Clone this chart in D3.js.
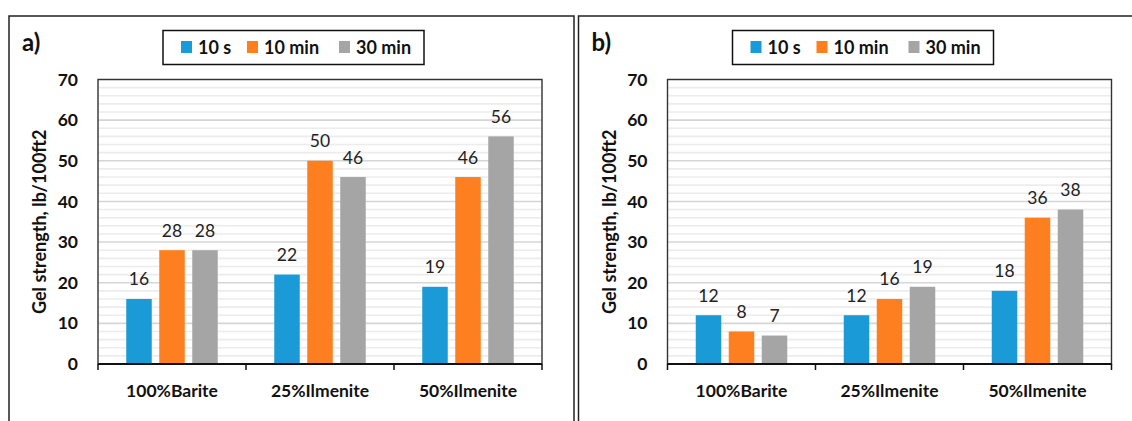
<!DOCTYPE html>
<html>
<head>
<meta charset="utf-8">
<script src="https://cdn.jsdelivr.net/npm/d3@7"></script>
<style>
  html, body { margin: 0; padding: 0; background: #fff; }
  svg { display: block; }
  text { font-family: Lato, "Open Sans", sans-serif; }
</style>
</head>
<body>
<div id="chart"></div>
<script>
// Gel strength readings (lb/100ft2) after 10 s, 10 min and 30 min
const categories = ["100%Barite", "25%Ilmenite", "50%Ilmenite"];
const seriesNames = ["10 s", "10 min", "30 min"];
const seriesColors = ["#1a9bd7", "#fe7f1f", "#a5a5a5"];

const panelA_10s   = [16, 22, 19];
const panelA_10min = [28, 50, 46];
const panelA_30min = [28, 46, 56];

const panelB_10s   = [12, 12, 18];
const panelB_10min = [8, 16, 36];
const panelB_30min = [7, 19, 38];

const yTickValues = [0, 10, 20, 30, 40, 50, 60, 70];
const yMinorValues = d3.range(0, 71, 2);
const yTitle = "Gel strength, lb/100ft2";

const W = 1132, H = 421;
const svg = d3.select("#chart").append("svg")
  .attr("width", W).attr("height", H);

function drawPanel(offsetX, tag, values) {
  const g = svg.append("g").attr("transform", `translate(${offsetX},0)`);

  // outer frame of the panel
  g.append("rect")
    .attr("x", 9).attr("y", 16)
    .attr("width", 565).attr("height", 430)
    .attr("fill", "none").attr("stroke", "#222").attr("stroke-width", 1.5);

  // panel tag
  g.append("text")
    .attr("x", 22).attr("y", 51)
    .attr("font-size", 24).attr("font-weight", 700).attr("fill", "#111")
    .text(tag);

  const plot = { left: 98, right: 542, top: 79.5, bottom: 364 };

  const x = d3.scaleBand().domain(categories)
    .range([plot.left, plot.right]).paddingInner(0).paddingOuter(0);
  const y = d3.scaleLinear().domain([0, 70]).range([plot.bottom, plot.top]);
  const xs = d3.scaleBand().domain(seriesNames)
    .range([-45.75, 45.75]).paddingInner(0.227).paddingOuter(0);

  // minor and major gridlines
  g.append("g").selectAll("line").data(yMinorValues.filter(v => v % 10 !== 0))
    .join("line")
    .attr("x1", plot.left).attr("x2", plot.right)
    .attr("y1", d => y(d)).attr("y2", d => y(d))
    .attr("stroke", "#ececec").attr("stroke-width", 1.6);
  g.append("g").selectAll("line").data(yTickValues.filter(v => v > 0))
    .join("line")
    .attr("x1", plot.left).attr("x2", plot.right)
    .attr("y1", d => y(d)).attr("y2", d => y(d))
    .attr("stroke", "#d6d6d6").attr("stroke-width", 1.6);

  // plot area frame
  g.append("rect")
    .attr("x", plot.left).attr("y", plot.top)
    .attr("width", plot.right - plot.left).attr("height", plot.bottom - plot.top)
    .attr("fill", "none").attr("stroke", "#333").attr("stroke-width", 1.4);

  // bars + value labels
  const rows = [];
  categories.forEach((c, i) => {
    seriesNames.forEach((s, j) => rows.push({ c, s, j, v: values[j][i] }));
  });

  g.append("g").selectAll("rect").data(rows).join("rect")
    .attr("x", d => x(d.c) + x.bandwidth() / 2 + xs(d.s))
    .attr("y", d => y(d.v))
    .attr("width", xs.bandwidth())
    .attr("height", d => y(0) - y(d.v))
    .attr("fill", d => seriesColors[d.j]);

  g.append("g").selectAll("text").data(rows).join("text")
    .attr("x", d => x(d.c) + x.bandwidth() / 2 + xs(d.s) + xs.bandwidth() / 2)
    .attr("y", d => y(d.v) - 13.5)
    .attr("text-anchor", "middle")
    .attr("font-size", 17.5).attr("fill", "#222")
    .text(d => d.v);

  // y axis labels
  const yAxis = d3.axisLeft(y).tickValues(yTickValues).tickSize(0).tickPadding(20);
  const ya = g.append("g").attr("transform", `translate(${plot.left},0)`).call(yAxis);
  ya.select(".domain").remove();
  ya.selectAll("text")
    .attr("font-size", 17.5).attr("font-weight", 700).attr("fill", "#111")
    .attr("font-family", "Lato, sans-serif");

  // x axis with category separators
  const xAxis = d3.axisBottom(x).tickSize(0).tickPadding(20.5);
  const xa = g.append("g").attr("transform", `translate(0,${plot.bottom})`).call(xAxis);
  xa.select(".domain").attr("stroke", "#111").attr("stroke-width", 2)
    .attr("d", `M${plot.left},0H${plot.right}`);
  xa.selectAll("text")
    .attr("font-size", 17.5).attr("font-weight", 700).attr("fill", "#111")
    .attr("font-family", "Lato, sans-serif");
  const seps = categories.map(c => x(c)).concat([x(categories[categories.length - 1]) + x.bandwidth()]);
  xa.append("g").selectAll("line").data(seps).join("line")
    .attr("x1", d => d).attr("x2", d => d)
    .attr("y1", 0).attr("y2", 6)
    .attr("stroke", "#111").attr("stroke-width", 1.5);

  // y axis title
  g.append("text")
    .attr("transform", `translate(46,${(plot.top + plot.bottom) / 2}) rotate(-90)`)
    .attr("text-anchor", "middle")
    .attr("font-size", 18).attr("font-weight", 700).attr("fill", "#111")
    .text(yTitle);

  // legend
  const lg = g.append("g");
  lg.append("rect")
    .attr("x", 163).attr("y", 30.5).attr("width", 261).attr("height", 34)
    .attr("fill", "#fff").attr("stroke", "#111").attr("stroke-width", 1.5);
  const legendX = [181, 247, 339];
  seriesNames.forEach((s, j) => {
    lg.append("rect")
      .attr("x", legendX[j]).attr("y", 41).attr("width", 11).attr("height", 12)
      .attr("fill", seriesColors[j]);
    lg.append("text")
      .attr("x", legendX[j] + 17).attr("y", 53.5)
      .attr("font-size", 18).attr("font-weight", 700).attr("fill", "#111")
      .text(s);
  });
}

drawPanel(0, "a)", [panelA_10s, panelA_10min, panelA_30min]);
drawPanel(569.5, "b)", [panelB_10s, panelB_10min, panelB_30min]);
</script>
</body>
</html>
